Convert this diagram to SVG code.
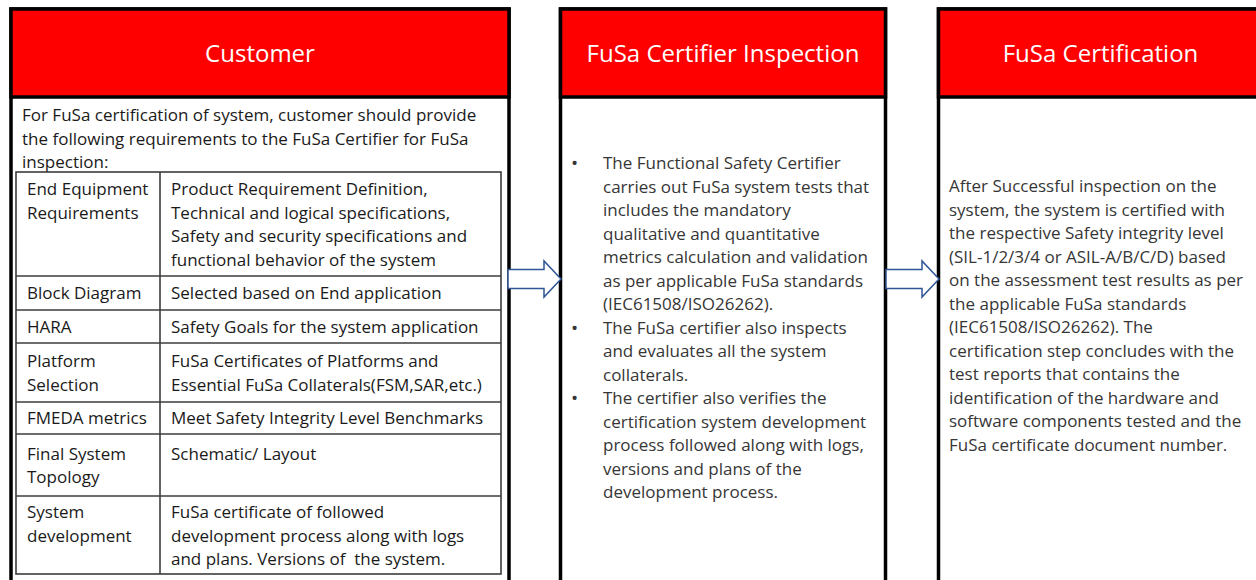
<svg xmlns="http://www.w3.org/2000/svg" width="1256" height="580" viewBox="0 0 1256 580">
<style>
.frame{fill:#fff;stroke:#000;stroke-width:3.5}
.head{fill:#ff0000;stroke:#000;stroke-width:3.5}
.title{font-family:"Open Sans","Noto Sans",sans-serif;font-size:24px;fill:#fff;text-anchor:middle}
.t{font-family:"Open Sans","Noto Sans",sans-serif;font-size:17px;fill:#1a1a1a}
.g{font-family:"Open Sans","Noto Sans",sans-serif;font-size:17px;fill:#363636}
.b{font-family:"Open Sans","Noto Sans",sans-serif;font-size:19px;fill:#363636}
.tl{fill:none;stroke:#3c3c3c;stroke-width:1.6}
.arrow{fill:#fff;stroke:#2f5597;stroke-width:1.5;stroke-linejoin:miter}
</style>
<rect width="1256" height="580" fill="#fff"/>

<g id="customer">
<rect class="frame" x="11" y="9" width="498" height="590"/>
<rect class="head" x="11" y="9" width="498" height="88"/>
<text class="title" x="260" y="62">Customer</text>
<text class="t" x="22" y="121">For FuSa certification of system, customer should provide</text>
<text class="t" x="22" y="144.5">the following requirements to the FuSa Certifier for FuSa</text>
<text class="t" x="22" y="168">inspection:</text>
<g id="req-table">
<rect class="tl" x="16" y="172" width="485" height="402"/>
<line class="tl" x1="160" y1="172" x2="160" y2="574"/>
<line class="tl" x1="16" y1="276" x2="501" y2="276"/>
<line class="tl" x1="16" y1="310" x2="501" y2="310"/>
<line class="tl" x1="16" y1="343" x2="501" y2="343"/>
<line class="tl" x1="16" y1="402" x2="501" y2="402"/>
<line class="tl" x1="16" y1="434" x2="501" y2="434"/>
<line class="tl" x1="16" y1="496" x2="501" y2="496"/>
<text class="t" x="27" y="195">End Equipment</text>
<text class="t" x="27" y="218.5">Requirements</text>
<text class="t" x="171" y="195">Product Requirement Definition,</text>
<text class="t" x="171" y="218.5">Technical and logical specifications,</text>
<text class="t" x="171" y="242">Safety and security specifications and</text>
<text class="t" x="171" y="265.5">functional behavior of the system</text>
<text class="t" x="27" y="299">Block Diagram</text>
<text class="t" x="171" y="299">Selected based on End application</text>
<text class="t" x="27" y="333">HARA</text>
<text class="t" x="171" y="333">Safety Goals for the system application</text>
<text class="t" x="27" y="367">Platform</text>
<text class="t" x="27" y="391">Selection</text>
<text class="t" x="171" y="367">FuSa Certificates of Platforms and</text>
<text class="t" x="171" y="391">Essential FuSa Collaterals(FSM,SAR,etc.)</text>
<text class="t" x="27" y="424">FMEDA metrics</text>
<text class="t" x="171" y="424">Meet Safety Integrity Level Benchmarks</text>
<text class="t" x="27" y="459.5">Final System</text>
<text class="t" x="27" y="483">Topology</text>
<text class="t" x="171" y="459.5">Schematic/ Layout</text>
<text class="t" x="27" y="518">System</text>
<text class="t" x="27" y="541.5">development</text>
<text class="t" x="171" y="518">FuSa certificate of followed</text>
<text class="t" x="171" y="541.5">development process along with logs</text>
<text class="t" x="171" y="565">and plans. Versions of&#160; the system.</text>
</g>
</g>

<g id="inspection">
<rect class="frame" x="560.5" y="9" width="325" height="590"/>
<rect class="head" x="560.5" y="9" width="325" height="88"/>
<text class="title" x="723" y="62">FuSa Certifier Inspection</text>
<text class="b" x="571" y="170">•</text>
<text class="g" x="603" y="169">The Functional Safety Certifier</text>
<text class="g" x="603" y="192.5">carries out FuSa system tests that</text>
<text class="g" x="603" y="216">includes the mandatory</text>
<text class="g" x="603" y="239.5">qualitative and quantitative</text>
<text class="g" x="603" y="263">metrics calculation and validation</text>
<text class="g" x="603" y="286.5">as per applicable FuSa standards</text>
<text class="g" x="603" y="310">(IEC61508/ISO26262).</text>
<text class="b" x="571" y="334.5">•</text>
<text class="g" x="603" y="333.5">The FuSa certifier also inspects</text>
<text class="g" x="603" y="357">and evaluates all the system</text>
<text class="g" x="603" y="380.5">collaterals.</text>
<text class="b" x="571" y="405">•</text>
<text class="g" x="603" y="404">The certifier also verifies the</text>
<text class="g" x="603" y="427.5">certification system development</text>
<text class="g" x="603" y="451">process followed along with logs,</text>
<text class="g" x="603" y="474.5">versions and plans of the</text>
<text class="g" x="603" y="498">development process.</text>
</g>

<g id="certification">
<rect class="frame" x="938.5" y="9" width="325" height="590"/>
<rect class="head" x="938.5" y="9" width="325" height="88"/>
<text class="title" x="1100.5" y="62">FuSa Certification</text>
<text class="g" x="949" y="192">After Successful inspection on the</text>
<text class="g" x="949" y="215.5">system, the system is certified with</text>
<text class="g" x="949" y="239">the respective Safety integrity level</text>
<text class="g" x="949" y="262.5">(SIL-1/2/3/4 or ASIL-A/B/C/D) based</text>
<text class="g" x="949" y="286">on the assessment test results as per</text>
<text class="g" x="949" y="309.5">the applicable FuSa standards</text>
<text class="g" x="949" y="333">(IEC61508/ISO26262). The</text>
<text class="g" x="949" y="356.5">certification step concludes with the</text>
<text class="g" x="949" y="380">test reports that contains the</text>
<text class="g" x="949" y="403.5">identification of the hardware and</text>
<text class="g" x="949" y="427">software components tested and the</text>
<text class="g" x="949" y="450.5">FuSa certificate document number.</text>
</g>

<g id="connectors">
<polygon class="arrow" points="508,269.5 544,269.5 544,261 561,279 544,297 544,288.5 508,288.5"/>
<polygon class="arrow" points="886,269.5 922,269.5 922,261 939,279 922,297 922,288.5 886,288.5"/>
</g>
</svg>
